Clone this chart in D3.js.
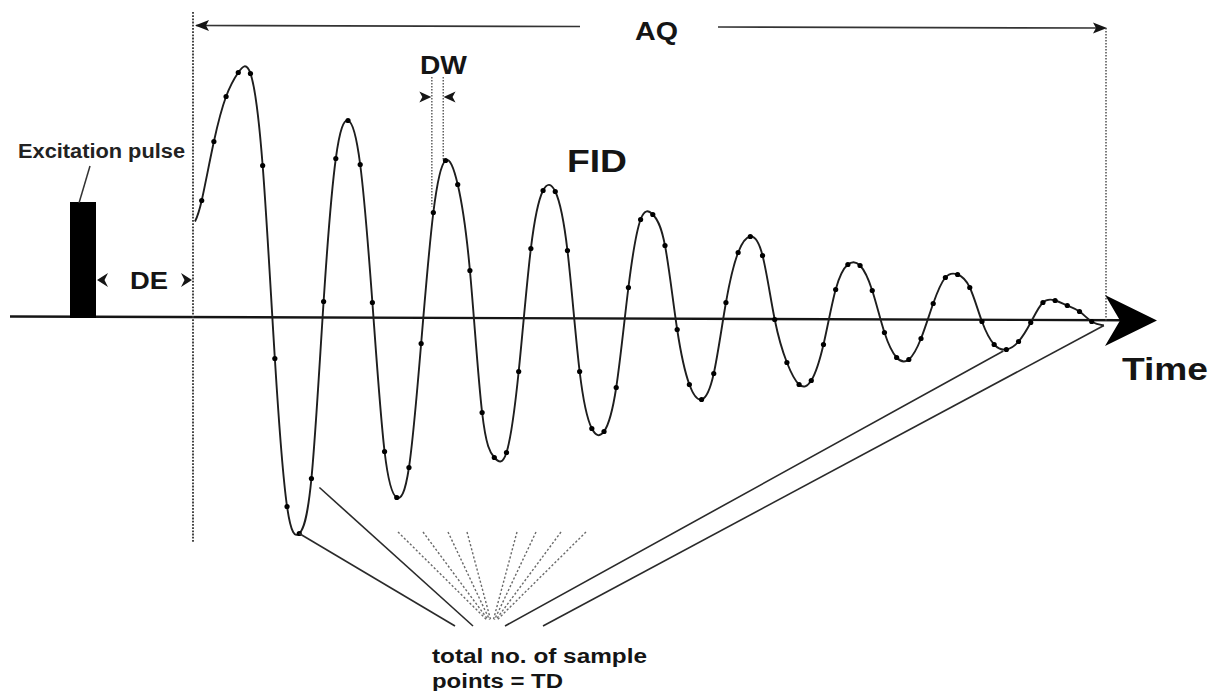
<!DOCTYPE html>
<html><head><meta charset="utf-8">
<script src="https://cdn.jsdelivr.net/npm/d3@7"></script>
<style>html,body{margin:0;padding:0;background:#fff;}svg{display:block;}</style>
</head><body>
<script>
// FID signal: amplitude of each acquired sample point (sample index = position in array)
const fidSamples = [118,177,222,246,245,153,-40,-188,-215,-160,17,160,198,154,16,-133,-179,-149,-25,106,
  158,134,48,-94,-139,-134,-53,70,128,127,68,-53,-110,-113,-69,31,99,104,73,-11,
  -66,-81,-55,16,66,82,63,-1,-44,-66,-62,-26,29,54,53,28,-14,-39,-41,-20,
  15,41,44,31,-3,-26,-31,-23,-4,16,18,13,7,-3];
// curve begins slightly before the first sample and ends slightly after the last one
const fidStart = {t: -0.55, v: 97};
const fidEnd = {t: 74, v: -7};
// annotations
const labels = {aq: "AQ", dw: "DW", de: "DE", fid: "FID", pulse: "Excitation pulse", time: "Time",
  td1: "total no. of sample", td2: "points = TD"};
const fanTopX = [398, 423, 448, 467, 517, 536, 561, 586];

const W = 1212, H = 691;
const svg = d3.select("body").append("svg").attr("width", W).attr("height", H);
svg.append("rect").attr("width", W).attr("height", H).attr("fill", "#fff");

const x = d3.scaleLinear().domain([0, fidSamples.length - 1]).range([201.7, 1091.7]);
const y = d3.scaleLinear().domain([0, 100]).range([318.5, 218.5]);

const ink = "#151515";
const FONT = "'Liberation Sans', Arial, Helvetica, sans-serif";

function arrowHead(tx, ty, angle, len, half, notch) {
  const p = `M0,0 L${-len},${-half} L${-len + notch},0 L${-len},${half} Z`;
  svg.append("path").attr("d", p).attr("fill", ink)
    .attr("transform", `translate(${tx},${ty}) rotate(${angle})`);
}
function dline(x1, y1, x2, y2, st) {
  const l = svg.append("line").attr("x1", x1).attr("y1", y1).attr("x2", x2).attr("y2", y2);
  Object.entries(st).forEach(([k, v]) => l.attr(k, v));
  return l;
}

// baseline (time axis)
svg.append("line").attr("x1", 10).attr("y1", 316.5).attr("x2", 1125).attr("y2", 320.2)
  .attr("stroke", ink).attr("stroke-width", 2.4);
svg.append("path")
  .attr("d", "M1157,320.5 L1105,295 L1120,320.5 L1105,346 Z")
  .attr("fill", "#000");

// dotted verticals (DE start / AQ end)
const dotted = {stroke: "#333", "stroke-width": 1.8, "stroke-dasharray": "1.8,1.4"};
dline(193, 12, 193, 543, dotted);
dline(1106, 28, 1106, 322, {stroke: "#444", "stroke-width": 1.4, "stroke-dasharray": "1.6,1.4"});

// AQ arrow
svg.append("line").attr("x1", 196).attr("y1", 25.5).attr("x2", 580).attr("y2", 26.5)
  .attr("stroke", "#333").attr("stroke-width", 1.7);
svg.append("line").attr("x1", 718).attr("y1", 27).attr("x2", 1100).attr("y2", 28)
  .attr("stroke", "#333").attr("stroke-width", 1.7);
arrowHead(195, 25.5, 180, 14, 5.5, 3);
arrowHead(1107, 28, 0, 14, 5.5, 3);
svg.append("text").attr("x", 635).attr("y", 40).text(labels.aq)
  .attr("font-family", FONT).attr("font-weight", "bold").attr("font-size", 26)
  .attr("textLength", 43).attr("lengthAdjust", "spacingAndGlyphs").attr("fill", ink);

// excitation pulse
svg.append("rect").attr("x", 70).attr("y", 202).attr("width", 26).attr("height", 116).attr("fill", "#000");
svg.append("line").attr("x1", 90).attr("y1", 166).attr("x2", 79).attr("y2", 203)
  .attr("stroke", "#333").attr("stroke-width", 1.5);
svg.append("text").attr("x", 18).attr("y", 158).text(labels.pulse)
  .attr("font-family", FONT).attr("font-weight", "bold").attr("font-size", 20)
  .attr("textLength", 167).attr("lengthAdjust", "spacingAndGlyphs").attr("fill", "#222");

// DE
arrowHead(97, 280, 180, 11, 7, 3.5);
arrowHead(192, 280, 0, 11, 7, 3.5);
svg.append("text").attr("x", 130).attr("y", 288.5).text(labels.de)
  .attr("font-family", FONT).attr("font-weight", "bold").attr("font-size", 23)
  .attr("textLength", 38).attr("lengthAdjust", "spacingAndGlyphs").attr("fill", ink);

// DW (dwell time between samples 19 and 20)
const dwSt = {stroke: "#555", "stroke-width": 1.4, "stroke-dasharray": "1.5,1.5"};
dline(x(19) - 1.5, 77, x(19) - 1.5, y(fidSamples[19]) - 6, dwSt);
dline(x(20) - 2.3, 77, x(20) - 2.3, y(fidSamples[20]), dwSt);
arrowHead(x(19) - 2, 97, 0, 12, 5.5, 3);
arrowHead(x(20) - 2, 97, 180, 12, 5.5, 3);
svg.append("text").attr("x", 420).attr("y", 73.5).text(labels.dw)
  .attr("font-family", FONT).attr("font-weight", "bold").attr("font-size", 25)
  .attr("textLength", 47).attr("lengthAdjust", "spacingAndGlyphs").attr("fill", ink);

// FID label
svg.append("text").attr("x", 567).attr("y", 171.5).text(labels.fid)
  .attr("font-family", FONT).attr("font-weight", "bold").attr("font-size", 32)
  .attr("textLength", 60).attr("lengthAdjust", "spacingAndGlyphs").attr("fill", ink);

// Time label
svg.append("text").attr("x", 1122).attr("y", 380).text(labels.time)
  .attr("font-family", FONT).attr("font-weight", "bold").attr("font-size", 31)
  .attr("textLength", 86).attr("lengthAdjust", "spacingAndGlyphs").attr("fill", ink);

// FID curve
const pts = [fidStart].concat(fidSamples.map((v, i) => ({t: i, v})), [fidEnd]);
const line = d3.line().x(d => x(d.t)).y(d => y(d.v)).curve(d3.curveNatural);
svg.append("path").attr("d", line(pts)).attr("fill", "none")
  .attr("stroke", "#1e1e1e").attr("stroke-width", 1.9);
svg.selectAll("circle.s").data(fidSamples).join("circle").attr("class", "s")
  .attr("cx", (d, i) => x(i)).attr("cy", d => y(d)).attr("r", 2.6).attr("fill", "#000");

// lines to "total no. of sample points"
const solid = {stroke: "#2a2a2a", "stroke-width": 1.6};
dline(x(8), y(fidSamples[8]), 455, 626, solid);
dline(x(9) + 8, y(fidSamples[9]) + 9, 473, 626, solid);
dline(505, 626, x(66) - 3, y(fidSamples[66]) + 1.5, solid);
dline(543, 626, x(fidEnd.t), y(fidEnd.v), solid);

// dotted fan converging to one point
const focal = [492, 625];
fanTopX.forEach((tx, i) => {
  const dx = focal[0] - tx, dy = focal[1] - 532, len = Math.hypot(dx, dy);
  const stop = 4 + Math.abs(i - 3.5) * 1.2;
  dline(tx, 532, focal[0] - dx / len * stop, focal[1] - dy / len * stop,
    {stroke: "#6a6a6a", "stroke-width": 1.4, "stroke-dasharray": "2.2,2"});
});

svg.append("text").attr("x", 432).attr("y", 663).text(labels.td1)
  .attr("font-family", FONT).attr("font-weight", "bold").attr("font-size", 20)
  .attr("textLength", 215).attr("lengthAdjust", "spacingAndGlyphs").attr("fill", ink);
svg.append("text").attr("x", 432).attr("y", 688).text(labels.td2)
  .attr("font-family", FONT).attr("font-weight", "bold").attr("font-size", 20)
  .attr("textLength", 131).attr("lengthAdjust", "spacingAndGlyphs").attr("fill", ink);
</script>
</body></html>
